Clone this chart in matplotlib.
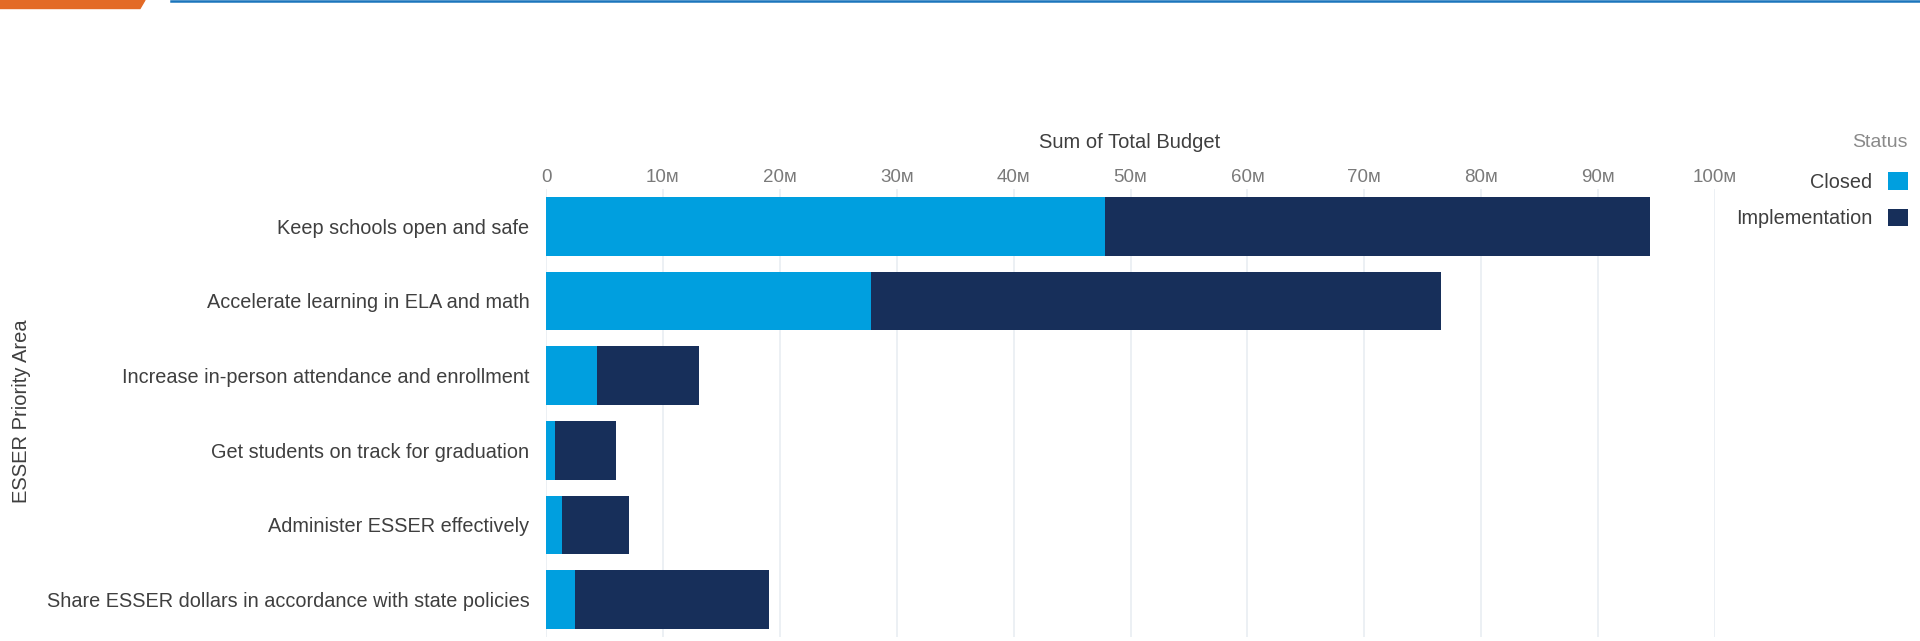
import matplotlib
matplotlib.use('Agg')
import matplotlib.pyplot as plt
from matplotlib.patches import Polygon
from matplotlib.ticker import FuncFormatter

# Budget by ESSER priority area, in millions of dollars
areas = [
    "Keep schools open and safe",
    "Accelerate learning in ELA and math",
    "Increase in-person attendance and enrollment",
    "Get students on track for graduation",
    "Administer ESSER effectively",
    "Share ESSER dollars in accordance with state policies",
]
closed = [47.8, 27.8, 4.4, 0.8, 1.35, 2.5]
implementation = [46.6, 48.8, 8.7, 5.2, 5.75, 16.6]
x_ticks = [0, 10, 20, 30, 40, 50, 60, 70, 80, 90, 100]

CLOSED_COLOR = '#009fdf'
IMPL_COLOR = '#172f5a'
TEXT_COLOR = '#3f3f3f'

plt.rcParams['font.family'] = ['Liberation Sans', 'DejaVu Sans']

W, H = 1920, 641
fig = plt.figure(figsize=(W / 100, H / 100), dpi=100)

# axes box in pixels: left 546, right 1715, top 189, bottom 637
left, right, top, bottom = 546, 1715, 189, 637
ax = fig.add_axes([left / W, 1 - bottom / H, (right - left) / W, (bottom - top) / H])

y = list(range(len(areas)))
ax.barh(y, closed, height=0.79, color=CLOSED_COLOR, label='Closed')
ax.barh(y, implementation, left=closed, height=0.79, color=IMPL_COLOR, label='Implementation')

ax.set_xlim(0, 100)
ax.set_ylim(len(areas) - 0.5, -0.5)
ax.set_yticks(y)
ax.set_yticklabels(areas, fontsize=14.3, color=TEXT_COLOR)
ax.tick_params(axis='y', length=0, pad=12)

ax.xaxis.tick_top()
ax.set_xticks(x_ticks)
ax.xaxis.set_major_formatter(FuncFormatter(lambda v, p: '0' if v == 0 else f'{int(v)}\u1d0d'))
ax.tick_params(axis='x', length=0, pad=2, labelsize=13.5, labelcolor='#7a7a7a')

ax.grid(axis='x', color='#e9edf2', linewidth=1.2)
ax.set_axisbelow(True)
for s in ax.spines.values():
    s.set_visible(False)

fig.text(1130 / W, 1 - 143 / H, 'Sum of Total Budget', ha='center', va='center',
         fontsize=14.5, color=TEXT_COLOR)
fig.text(22 / W, 1 - 411 / H, 'ESSER Priority Area', ha='center', va='center',
         rotation=90, fontsize=14.5, color=TEXT_COLOR)

# legend on the right, title drawn separately so it sits above the entries
fig.text(1908 / W, 1 - 143 / H, 'Status', ha='right', va='center',
         fontsize=14, color='#8a8a8a')
leg = ax.legend(loc='upper right', bbox_to_anchor=(1908 / W, 1 - 172 / H),
                bbox_transform=fig.transFigure, frameon=False, markerfirst=False,
                fontsize=14.3, borderpad=0, borderaxespad=0,
                handlelength=1.0, handleheight=1.0, handletextpad=0.8, labelspacing=0.85)
for t in leg.get_texts():
    t.set_color(TEXT_COLOR)

# header strip: orange tab and thin blue rule
fig.patches.append(Polygon([[0, 1], [145 / W, 1], [140 / W, 1 - 8.5 / H], [0, 1 - 8.5 / H]],
                           closed=True, transform=fig.transFigure, color='#e36a26'))
fig.lines.append(plt.Line2D([171 / W, 1], [1 - 1 / H, 1 - 1 / H], transform=fig.transFigure,
                            color='#1b75bc', linewidth=1.8))

fig.savefig('out.png', dpi=100)
